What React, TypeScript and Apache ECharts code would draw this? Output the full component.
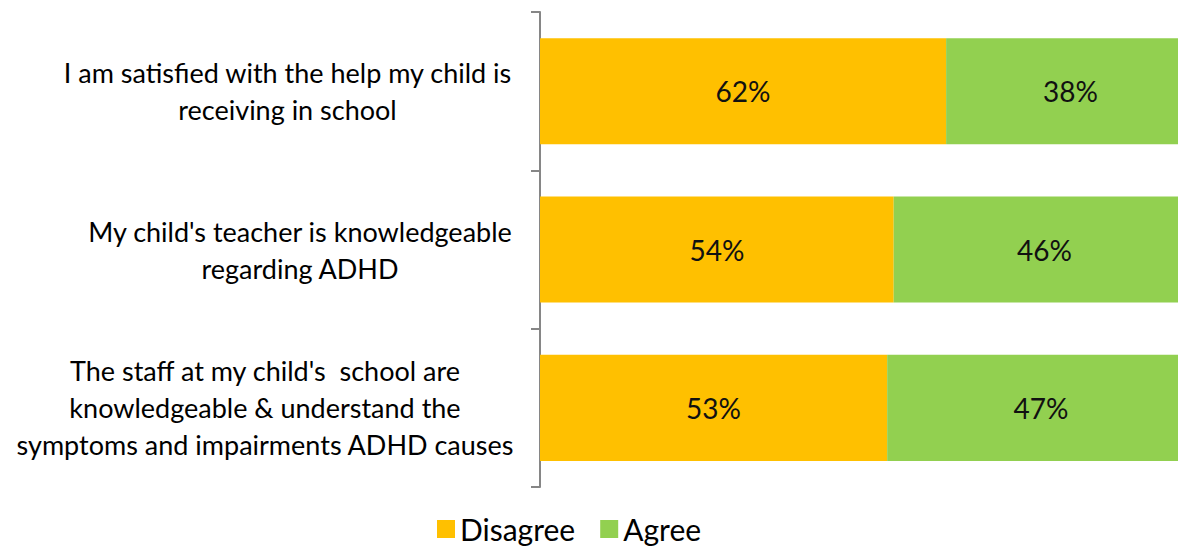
import React, { useEffect, useRef } from "react";
import * as echarts from "echarts";

const categories = [
  "I am satisfied with the help my child is\nreceiving in school",
  "My child's teacher is knowledgeable\nregarding ADHD",
  "The staff at my child's  school are\nknowledgeable & understand the\nsymptoms and impairments ADHD causes",
];
const disagree = [62, 54, 53];
const agree = [38, 46, 47];
const seriesNames = ["Disagree", "Agree"];

const FONT = "Lato";

export default function App() {
  const ref = useRef<HTMLDivElement>(null);
  useEffect(() => {
    document.body.style.margin = "0";
    const chart = echarts.init(ref.current!, null, { renderer: "svg" });
    const richKeys = ["r0", "r1", "r2"];
    const richWidths = [455, 430, 500];
    const rich: any = {};
    richKeys.forEach((k, i) => {
      rich[k] = {
        width: richWidths[i],
        align: "center",
        fontFamily: FONT,
        fontSize: 27,
        lineHeight: 37,
        color: "#000",
      };
    });
    const labelStyle = {
      show: true,
      position: "inside",
      formatter: "{c}%",
      fontFamily: FONT,
      fontSize: 28,
      color: "#111",
    };
    chart.setOption({
      animation: false,
      grid: {
        left: 540,
        width: 655,
        top: 12,
        bottom: 59,
        containLabel: false,
        outerBoundsMode: "none",
      },
      legend: {
        top: 514,
        left: 437,
        padding: 0,
        icon: "rect",
        itemWidth: 18,
        itemHeight: 18,
        itemGap: 25,
        textStyle: { fontFamily: FONT, fontSize: 30, lineHeight: 30, color: "#000" },
        data: seriesNames,
      },
      xAxis: {
        type: "value",
        min: 0,
        max: 100,
        show: false,
      },
      yAxis: {
        type: "category",
        inverse: true,
        data: categories,
        axisLine: { show: true, lineStyle: { color: "#868686", width: 2 } },
        axisTick: { show: true, length: 9, lineStyle: { color: "#868686", width: 2 } },
        axisLabel: {
          margin: 25,
          formatter: (v: string) => {
            const i = categories.indexOf(v);
            const k = richKeys[i];
            return v
              .split("\n")
              .map((l) => `{${k}|${l}}`)
              .join("\n");
          },
          rich,
        },
      },
      series: [
        {
          name: seriesNames[0],
          type: "bar",
          stack: "total",
          data: disagree,
          barCategoryGap: "33%",
          itemStyle: { color: "#FFC000" },
          label: labelStyle,
        },
        {
          name: seriesNames[1],
          type: "bar",
          stack: "total",
          data: agree,
          barCategoryGap: "33%",
          itemStyle: { color: "#92D050" },
          label: labelStyle,
        },
      ],
    });
    return () => chart.dispose();
  }, []);
  return <div ref={ref} style={{ width: 1178, height: 546, overflow: "hidden" }} />;
}
